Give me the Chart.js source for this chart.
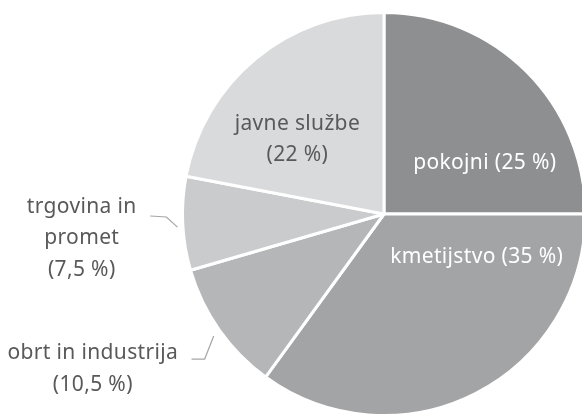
<!DOCTYPE html>
<html><head><meta charset="utf-8">
<script src="https://cdn.jsdelivr.net/npm/chart.js@4"></script>
<style>html,body{margin:0;padding:0;background:#fff}#wrap{width:582px;height:415px}</style>
</head><body><div id="wrap"><canvas id="c" width="582" height="415"></canvas></div>
<script>
const categories = ['pokojni', 'kmetijstvo', 'obrt in industrija', 'trgovina in promet', 'javne službe'];
const shares = [25, 35, 10.5, 7.5, 22];
const valueLabels = ['25 %', '35 %', '10,5 %', '7,5 %', '22 %'];
const sliceColors = ['#8e8f91', '#a3a4a6', '#b5b6b8', '#cacbcd', '#d9dadb'];

// label layout: lines, placement relative to the pie centre in units of radius
const labelLayout = [
  {lines: ['pokojni (25 %)'], dx: 0.50, dy: -0.255, color: '#ffffff'},
  {lines: ['kmetijstvo (35 %)'], dx: 0.46, dy: 0.215, color: '#ffffff'},
  {lines: ['obrt in industrija', '(10,5 %)'], dx: -1.445, dy: 0.77, color: '#595959',
   leader: [[-0.955, 0.72], [-0.89, 0.72], [-0.845, 0.605]]},
  {lines: ['trgovina in', 'promet', '(7,5 %)'], dx: -1.50, dy: 0.12, color: '#595959',
   leader: [[-1.16, 0.01], [-1.08, 0.015], [-1.025, 0.065]]},
  {lines: ['javne službe', '(22 %)'], dx: -0.43, dy: -0.37, color: '#595959'}
];

const labelPlugin = {
  id: 'sliceLabels',
  afterDatasetsDraw(chart) {
    const ctx = chart.ctx;
    const arc = chart.getDatasetMeta(0).data[0];
    const cx = arc.x, cy = arc.y, r = arc.outerRadius;
    ctx.save();
    ctx.font = '21px "Noto Sans", sans-serif';
    ctx.letterSpacing = '0.35px';
    ctx.textAlign = 'center';
    ctx.textBaseline = 'middle';
    labelLayout.forEach(l => {
      if (l.leader) {
        ctx.strokeStyle = '#a6a6a6';
        ctx.lineWidth = 1.2;
        ctx.beginPath();
        l.leader.forEach((p, i) => {
          const x = cx + p[0] * r, y = cy + p[1] * r;
          if (i === 0) ctx.moveTo(x, y); else ctx.lineTo(x, y);
        });
        ctx.stroke();
      }
      ctx.fillStyle = l.color;
      const lh = 31.5;
      const x = cx + l.dx * r;
      const y0 = cy + l.dy * r - (l.lines.length - 1) * lh / 2;
      l.lines.forEach((t, i) => ctx.fillText(t, x, y0 + i * lh));
    });
    ctx.restore();
  }
};

new Chart(document.getElementById('c'), {
  type: 'pie',
  data: {
    labels: categories,
    datasets: [{
      data: shares,
      backgroundColor: sliceColors,
      borderColor: '#ffffff',
      borderWidth: 3,
      clip: false
    }]
  },
  options: {
    responsive: false,
    animation: false,
    radius: 201.5,
    layout: {padding: {left: 186, right: 0, top: 13, bottom: 0}},
    plugins: {legend: {display: false}, tooltip: {enabled: false}}
  },
  plugins: [labelPlugin]
});
</script>
</body></html>
